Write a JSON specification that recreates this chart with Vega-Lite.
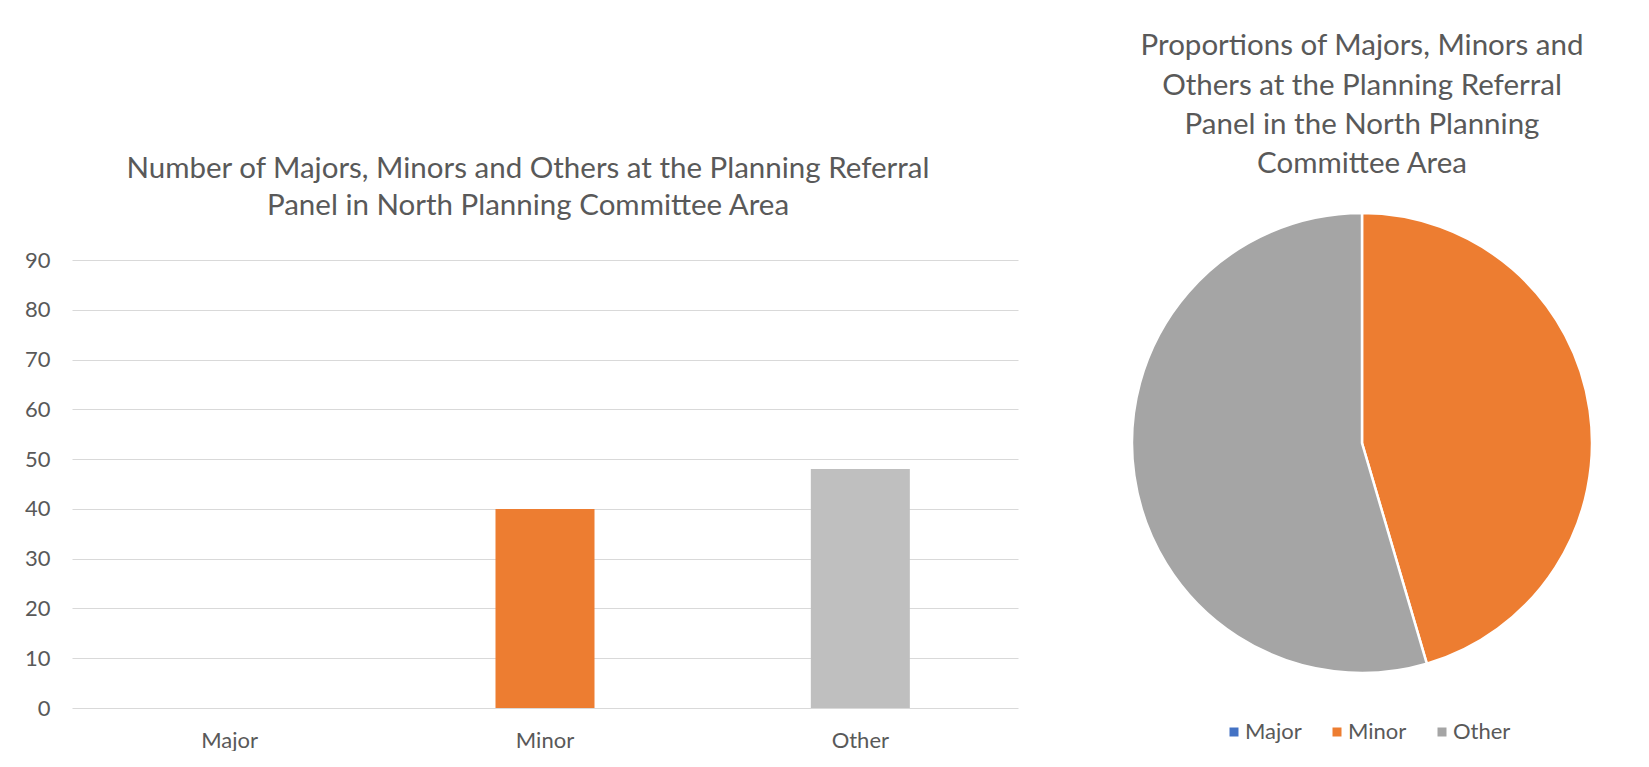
{
  "$schema": "https://vega.github.io/schema/vega-lite/v6.json",
  "padding": {"left": 24, "top": 31, "right": 0, "bottom": 0},
  "background": "white",
  "bounds": "flush",
  "spacing": 104,
  "config": {
    "view": {"stroke": null},
    "font": "Lato",
    "title": {"font": "Lato", "fontSize": 29.5, "fontWeight": "normal", "color": "#595959", "anchor": "middle"},
    "axis": {"labelFont": "Lato", "labelColor": "#595959", "labelFontSize": 22}
  },
  "datasets": {
    "counts": [
      {"category": "Major", "count": 0},
      {"category": "Minor", "count": 40},
      {"category": "Other", "count": 48}
    ]
  },
  "resolve": {"scale": {"color": "independent"}},
  "hconcat": [
    {
      "width": 946,
      "height": 448,
      "title": {
        "text": ["Number of Majors, Minors and Others at the Planning Referral", "Panel in North Planning Committee Area"],
        "lineHeight": 37,
        "offset": 28,
        "dx": -17
      },
      "data": {"name": "counts"},
      "mark": {"type": "bar"},
      "encoding": {
        "x": {
          "field": "category", "type": "nominal", "sort": ["Major", "Minor", "Other"],
          "scale": {"paddingInner": 0.686, "paddingOuter": 0.343},
          "axis": {"title": null, "labelAngle": 0, "domain": false, "ticks": false, "tickSize": 0, "labelPadding": 22, "grid": false}
        },
        "y": {
          "field": "count", "type": "quantitative",
          "scale": {"domain": [0, 90], "nice": false},
          "axis": {"title": null, "values": [0, 10, 20, 30, 40, 50, 60, 70, 80, 90], "domain": false, "ticks": false, "tickSize": 0, "labelPadding": 22, "gridColor": "#D9D9D9", "gridWidth": 1.2}
        },
        "color": {
          "field": "category", "type": "nominal",
          "scale": {"domain": ["Major", "Minor", "Other"], "range": ["#4472C4", "#ED7D31", "#BFBFBF"]},
          "legend": null
        }
      }
    },
    {
      "width": 480,
      "height": 366,
      "title": {
        "text": ["Proportions of Majors, Minors and", "Others at the Planning Referral", "Panel in the North Planning", "Committee Area"],
        "lineHeight": 39.4,
        "offset": 28,
        "dx": 0
      },
      "data": {"name": "counts"},
      "mark": {"type": "arc", "outerRadius": 230, "stroke": "white", "strokeWidth": 2.5},
      "encoding": {
        "theta": {"field": "count", "type": "quantitative", "stack": true},
        "order": {"field": "category", "type": "ordinal", "sort": "ascending"},
        "color": {
          "field": "category", "type": "nominal",
          "scale": {"domain": ["Major", "Minor", "Other"], "range": ["#4472C4", "#ED7D31", "#A5A5A5"]},
          "legend": {
            "orient": "none", "legendX": 101, "legendY": 461, "direction": "horizontal",
            "title": null, "symbolType": "square", "symbolSize": 81, "symbolStrokeWidth": 0,
            "labelFont": "Lato", "labelFontSize": 22, "labelColor": "#595959",
            "columnPadding": 24, "labelOffset": 0, "padding": 0
          }
        }
      }
    }
  ]
}
